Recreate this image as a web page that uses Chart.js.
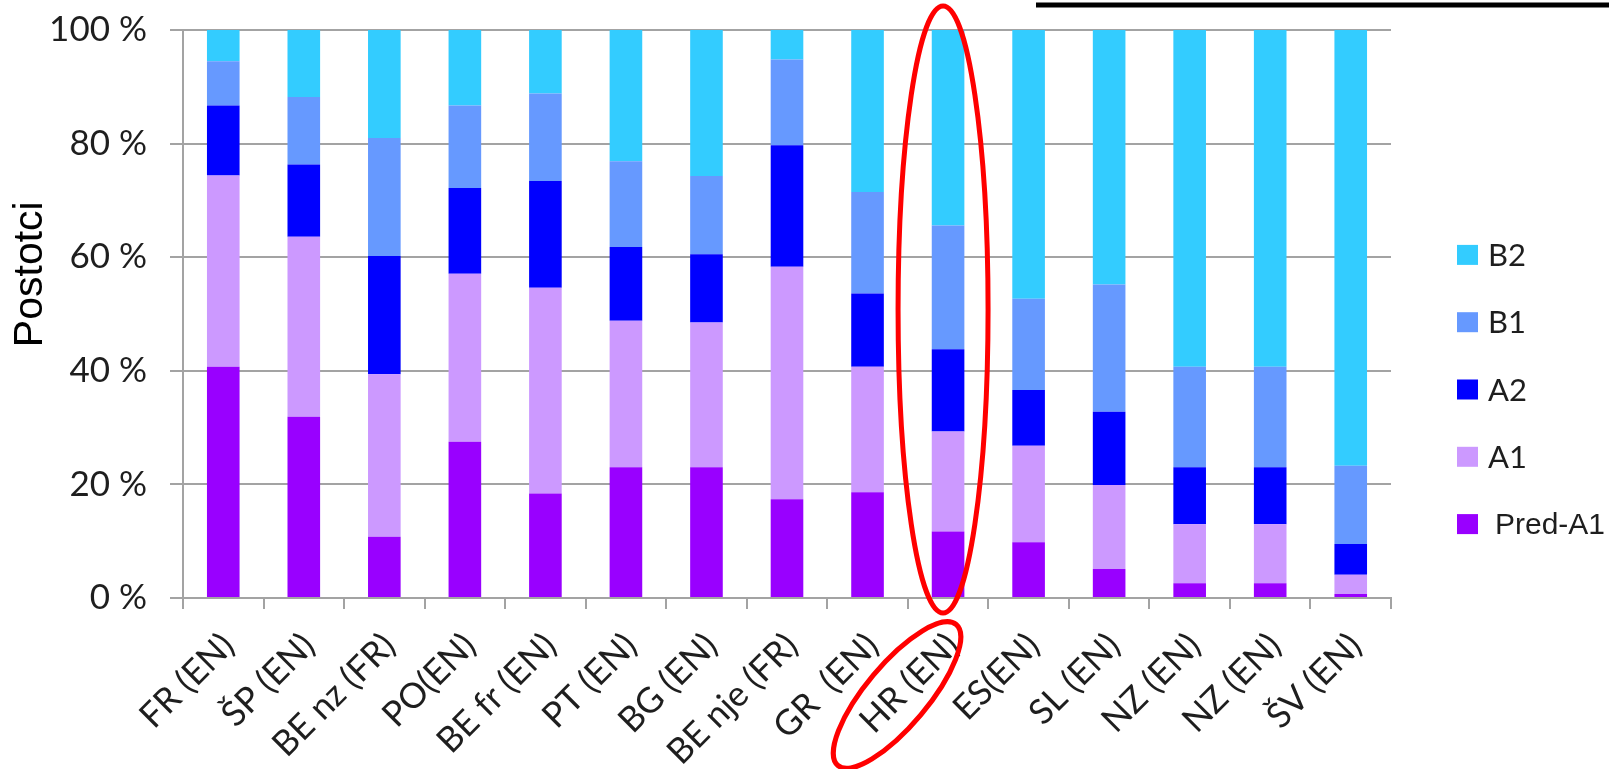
<!DOCTYPE html>
<html>
<head>
<meta charset="utf-8">
<script src="https://cdn.jsdelivr.net/npm/chart.js@4"></script>
<style>
  html, body { margin: 0; padding: 0; background: #fff; }
  #wrap { position: relative; width: 1609px; height: 769px; }
</style>
</head>
<body>
<div id="wrap"><canvas id="chart"></canvas></div>
<script>
/* CEFR levels by country — stacked 100 % columns. */

var CATEGORIES = ["FR (EN)", "ŠP (EN)", "BE nz (FR)", "PO(EN)", "BE fr (EN)", "PT (EN)", "BG (EN)",
  "BE nje (FR)", "GR  (EN)", "HR (EN)", "ES(EN)", "SL (EN)", "NZ (EN)", "NZ (EN)", "ŠV (EN)"];

var PRE_A1 = [40.7, 31.9, 10.8, 27.5, 18.4, 23.0, 23.0, 17.4, 18.6, 11.7, 9.8, 5.1, 2.6, 2.6, 0.7];
var A1 = [33.7, 31.7, 28.6, 29.6, 36.2, 25.8, 25.5, 40.9, 22.1, 17.6, 17.0, 14.8, 10.4, 10.4, 3.4];
var A2 = [12.3, 12.7, 20.8, 15.1, 18.8, 13.0, 12.0, 21.4, 12.9, 14.5, 9.8, 12.9, 10.0, 10.0, 5.4];
var B1 = [7.8, 11.9, 20.8, 14.5, 15.4, 15.1, 13.8, 15.1, 17.9, 21.8, 16.1, 22.4, 17.7, 17.7, 13.8];
var B2 = [5.5, 11.8, 19.0, 13.3, 11.2, 23.1, 25.7, 5.2, 28.5, 34.4, 47.3, 44.8, 59.3, 59.3, 76.7];

var Y_TICKS = [0, 20, 40, 60, 80, 100];
var Y_TITLE = "Postotci";
var MARKED = "HR (EN)";

(function () {
  "use strict";

  var COLORS = { pre: "#9900ff", a1: "#cc99ff", a2: "#0000ff", b1: "#6699ff", b2: "#33ccff" };
  var GRID = "#a3a3a3";
  var INK = "#1e1e1e";
  var CALIBRI = "Lato, 'Open Sans', sans-serif";
  var ARIAL = "'Liberation Sans', Arial, sans-serif";

  Chart.defaults.font.family = CALIBRI;
  Chart.defaults.color = INK;

  function ds(label, data, color) {
    return {
      label: label, data: data, backgroundColor: color,
      borderWidth: 0, categoryPercentage: 1, barPercentage: 0.405
    };
  }

  /* legend on the right, top entry = top of the stack */
  var sideLegend = {
    id: "sideLegend",
    afterDraw: function (chart) {
      var ctx = chart.ctx;
      var sets = chart.data.datasets.slice().reverse();
      var x = chart.chartArea.right + 66;
      var step = 67.3;
      var y0 = chart.height / 2 + 5 - step * (sets.length - 1) / 2;
      ctx.save();
      ctx.textBaseline = "middle";
      sets.forEach(function (d, i) {
        var y = y0 + i * step;
        ctx.fillStyle = d.backgroundColor;
        ctx.fillRect(x, y - 10, 21, 20);
        ctx.fillStyle = INK;
        if (d.label === "Pred-A1") {
          ctx.font = "30px " + ARIAL;
          ctx.fillText(d.label, x + 38, y + 2);
        } else {
          ctx.font = "31px " + CALIBRI;
          ctx.fillText(d.label, x + 31, y + 1);
        }
      });
      ctx.restore();
    }
  };

  /* axis title, top rule and the red marks drawn over the picture */
  var extras = {
    id: "extras",
    afterDraw: function (chart) {
      var ctx = chart.ctx;
      var area = chart.chartArea;
      var xs = chart.scales.x;
      ctx.save();
      // y axis title
      ctx.translate(31, area.top + (area.bottom - area.top) * 0.43);
      ctx.rotate(-Math.PI / 2);
      ctx.font = "41px " + ARIAL;
      ctx.fillStyle = "#000";
      ctx.textAlign = "center";
      ctx.textBaseline = "middle";
      ctx.fillText(Y_TITLE, 0, 0);
      ctx.restore();

      // black rule at the top right
      ctx.save();
      ctx.fillStyle = "#000";
      ctx.fillRect(1036, 2.5, chart.width - 1036, 5);
      ctx.restore();

      // red ellipses around the marked column and its label
      var cx = xs.getPixelForValue(CATEGORIES.indexOf(MARKED));
      ctx.save();
      ctx.strokeStyle = "#ff0000";
      ctx.lineWidth = 5;
      ctx.beginPath();
      ctx.ellipse(cx - 5, (6 + 613) / 2, 45, 303.5, 0, 0, Math.PI * 2);
      ctx.stroke();
      ctx.beginPath();
      ctx.ellipse(cx - 51, 695, 92, 31, -50 * Math.PI / 180, 0, Math.PI * 2);
      ctx.stroke();
      ctx.restore();
    }
  };

  new Chart(document.getElementById("chart"), {
    type: "bar",
    data: {
      labels: CATEGORIES,
      datasets: [
        ds("Pred-A1", PRE_A1, COLORS.pre),
        ds("A1", A1, COLORS.a1),
        ds("A2", A2, COLORS.a2),
        ds("B1", B1, COLORS.b1),
        ds("B2", B2, COLORS.b2)
      ]
    },
    options: {
      responsive: true, maintainAspectRatio: false, animation: false,
      layout: { padding: { top: 30, right: 218, left: 0, bottom: 0 } },
      plugins: { legend: { display: false }, tooltip: { enabled: false } },
      scales: {
        x: {
          stacked: true,
          grid: { drawOnChartArea: false, color: GRID, lineWidth: 2, tickLength: 11 },
          border: { color: GRID, width: 2 },
          ticks: {
            autoSkip: false, minRotation: 45, maxRotation: 45,
            padding: 16, labelOffset: 5,
            font: { size: 35 }, color: INK
          },
          afterFit: function (s) { s.height = 171; }
        },
        y: {
          stacked: true, min: 0, max: 100,
          afterBuildTicks: function (s) { s.ticks = Y_TICKS.map(function (v) { return { value: v }; }); },
          grid: { color: GRID, lineWidth: 2, tickLength: 13 },
          border: { color: GRID, width: 2 },
          ticks: {
            padding: 23, font: { size: 35 }, color: INK,
            callback: function (v) { return v + " %"; }
          },
          afterFit: function (s) { s.width = 183; s.paddingTop = 0; s.paddingBottom = 0; }
        }
      }
    },
    plugins: [sideLegend, extras]
  });
})();
</script>
</body>
</html>
